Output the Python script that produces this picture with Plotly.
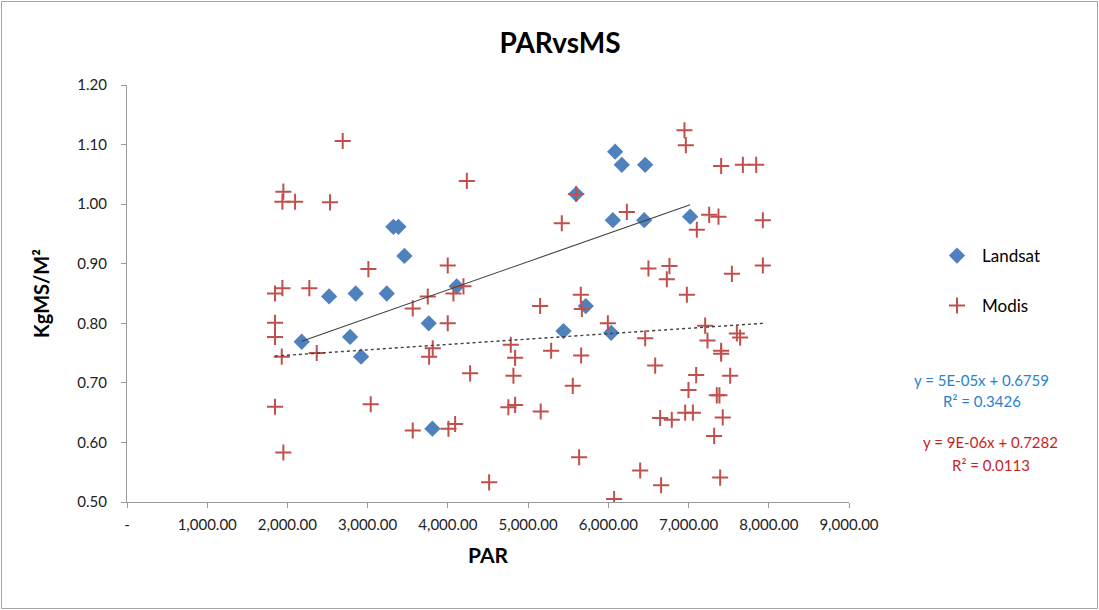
import plotly.graph_objects as go

# Landsat series (PAR, KgMS/M2)
landsat_par = [2178, 2519, 2851, 3238, 2781, 2918, 3761, 3807, 4110, 3320, 3383, 3458,
               6085, 6168, 6459, 5599, 6056, 6447, 7020, 5719, 5441, 6035]
landsat_ms = [0.769, 0.845, 0.850, 0.850, 0.777, 0.744, 0.800, 0.623, 0.862, 0.962, 0.962, 0.913,
              1.088, 1.066, 1.066, 1.017, 0.973, 0.973, 0.979, 0.829, 0.787, 0.784]

# Modis series (PAR, KgMS/M2)
modis_par = [1845, 1937, 2273, 1845, 1845, 1929, 2365, 1845, 1949, 1949, 1937, 2095, 2531, 2689,
             3009, 3038, 3562, 3749, 3998, 3811, 3766, 4069, 4194, 3998, 4236, 4277, 3562, 4007,
             4090, 4514, 4784, 4838, 4817, 4754, 4838, 5150, 5420, 5599, 5657, 5670, 5287, 5661,
             5557, 5157, 5636, 5994, 6072, 6231, 6459, 6500, 6584, 6397, 6658, 6646, 6729, 6762,
             6791, 6949, 6966, 6979, 6958, 7054, 6999, 7095, 7103, 7207, 7236, 7257, 7373, 7406,
             7406, 7406, 7352, 7385, 7426, 7319, 7394, 7519, 7540, 7602, 7643, 7677, 7843, 7926,
             7926]
modis_ms = [0.850, 0.859, 0.859, 0.801, 0.777, 0.744, 0.750, 0.660, 0.583, 1.021, 1.004, 1.004,
            1.003, 1.106, 0.891, 0.664, 0.825, 0.845, 0.800, 0.758, 0.744, 0.850, 0.862, 0.897,
            1.039, 0.716, 0.620, 0.623, 0.631, 0.533, 0.764, 0.742, 0.712, 0.659, 0.663, 0.829,
            0.968, 1.017, 0.848, 0.824, 0.754, 0.746, 0.695, 0.652, 0.575, 0.800, 0.505, 0.987,
            0.775, 0.892, 0.729, 0.553, 0.528, 0.641, 0.874, 0.896, 0.638, 1.124, 1.099, 0.848,
            0.650, 0.650, 0.688, 0.713, 0.957, 0.796, 0.771, 0.982, 0.979, 1.064, 0.754, 0.749,
            0.679, 0.679, 0.642, 0.611, 0.541, 0.712, 0.883, 0.783, 0.776, 1.066, 1.066, 0.973,
            0.897]

# Linear trendlines as drawn in the chart (end points)
landsat_trend_par = [2178, 7020]
landsat_trend_ms = [0.770, 0.999]
modis_trend_par = [1845, 7934]
modis_trend_ms = [0.745, 0.800]

landsat_eq = ["y = 5E-05x + 0.6759", "R² = 0.3426"]
modis_eq = ["y = 9E-06x + 0.7282", "R² = 0.0113"]

x_ticks = [0, 1000, 2000, 3000, 4000, 5000, 6000, 7000, 8000, 9000]
x_labels = ["-", "1,000.00", "2,000.00", "3,000.00", "4,000.00", "5,000.00",
            "6,000.00", "7,000.00", "8,000.00", "9,000.00"]
y_ticks = [0.5, 0.6, 0.7, 0.8, 0.9, 1.0, 1.1, 1.2]

BLUE = "#4F81BD"
RED = "#C0504D"
FONT = "Lato, Open Sans, sans-serif"

W, H = 1099, 610
L, R, T, B = 127, 250, 85, 108
pw, ph = W - L - R, H - T - B


def px_x(p):
    return (p - L) / pw


def px_y(p):
    return (H - B - p) / ph


fig = go.Figure()

fig.add_trace(go.Scatter(
    x=landsat_par, y=landsat_ms, mode="markers", name="Landsat",
    marker=dict(symbol="diamond", size=12.5, color=BLUE, line=dict(width=0)),
    legend="legend"))
fig.add_trace(go.Scatter(
    x=modis_par, y=modis_ms, mode="markers", name="Modis",
    marker=dict(symbol="cross-thin", size=11.5, color=RED, line=dict(width=2, color=RED)),
    legend="legend2"))

fig.add_trace(go.Scatter(x=landsat_trend_par, y=landsat_trend_ms, mode="lines",
                         showlegend=False, hoverinfo="skip",
                         line=dict(color="#404040", width=1.1)))
fig.add_trace(go.Scatter(x=modis_trend_par, y=modis_trend_ms, mode="lines",
                         showlegend=False, hoverinfo="skip",
                         line=dict(color="#404040", width=1.4, dash="dot")))

annotations = []
for i, txt in enumerate(landsat_eq):
    annotations.append(dict(text=txt, x=px_x(982), y=px_y(380 + 21 * i), xref="paper", yref="paper",
                            showarrow=False, xanchor="center", yanchor="middle",
                            font=dict(family=FONT, size=15, color="#2882D0")))
for i, txt in enumerate(modis_eq):
    annotations.append(dict(text=txt, x=px_x(991), y=px_y(442 + 23 * i), xref="paper", yref="paper",
                            showarrow=False, xanchor="center", yanchor="middle",
                            font=dict(family=FONT, size=15, color="#C81E1E")))

fig.update_layout(
    width=W, height=H,
    margin=dict(l=L, r=R, t=T, b=B),
    paper_bgcolor="white", plot_bgcolor="white",
    font=dict(family=FONT, color="#222222"),
    title=dict(text="<b>PARvsMS</b>", x=px_x(560), xref="paper", xanchor="center",
               y=1 - 43 / H, yref="container", yanchor="middle",
               font=dict(family=FONT, size=28, color="#000000")),
    xaxis=dict(range=[0, 9000], tickvals=x_ticks, ticktext=x_labels,
               showgrid=False, zeroline=False, showline=True, linecolor="#9A9A9A", linewidth=1,
               ticks="outside", ticklen=5, tickcolor="#9A9A9A", ticklabelstandoff=4,
               tickfont=dict(family=FONT, size=15, color="#222222"),
               title=dict(text="<b>PAR</b>", standoff=16,
                          font=dict(family=FONT, size=21, color="#000000"))),
    yaxis=dict(range=[0.5, 1.2], tickvals=y_ticks, tickformat=".2f",
               showgrid=False, zeroline=False, showline=True, linecolor="#9A9A9A", linewidth=1,
               ticks="outside", ticklen=5, tickcolor="#9A9A9A", ticklabelstandoff=11,
               tickfont=dict(family=FONT, size=15, color="#222222"),
               title=dict(text="<b>KgMS/M²</b>", standoff=22,
                          font=dict(family=FONT, size=20, color="#000000"))),
    legend=dict(x=px_x(932), y=px_y(256), xanchor="left", yanchor="middle", itemwidth=40,
                font=dict(family=FONT, size=17, color="#000000"), bgcolor="rgba(0,0,0,0)"),
    legend2=dict(x=px_x(932), y=px_y(306), xanchor="left", yanchor="middle", itemwidth=40,
                 font=dict(family=FONT, size=17, color="#000000"), bgcolor="rgba(0,0,0,0)"),
    annotations=annotations,
    shapes=[dict(type="rect", xref="paper", yref="paper",
                 x0=px_x(1.5), x1=px_x(1097.5), y0=px_y(608.5), y1=px_y(1.5),
                 line=dict(color="#A6A6A6", width=1), fillcolor="rgba(0,0,0,0)", layer="below")],
)

fig.write_html("out.html")
